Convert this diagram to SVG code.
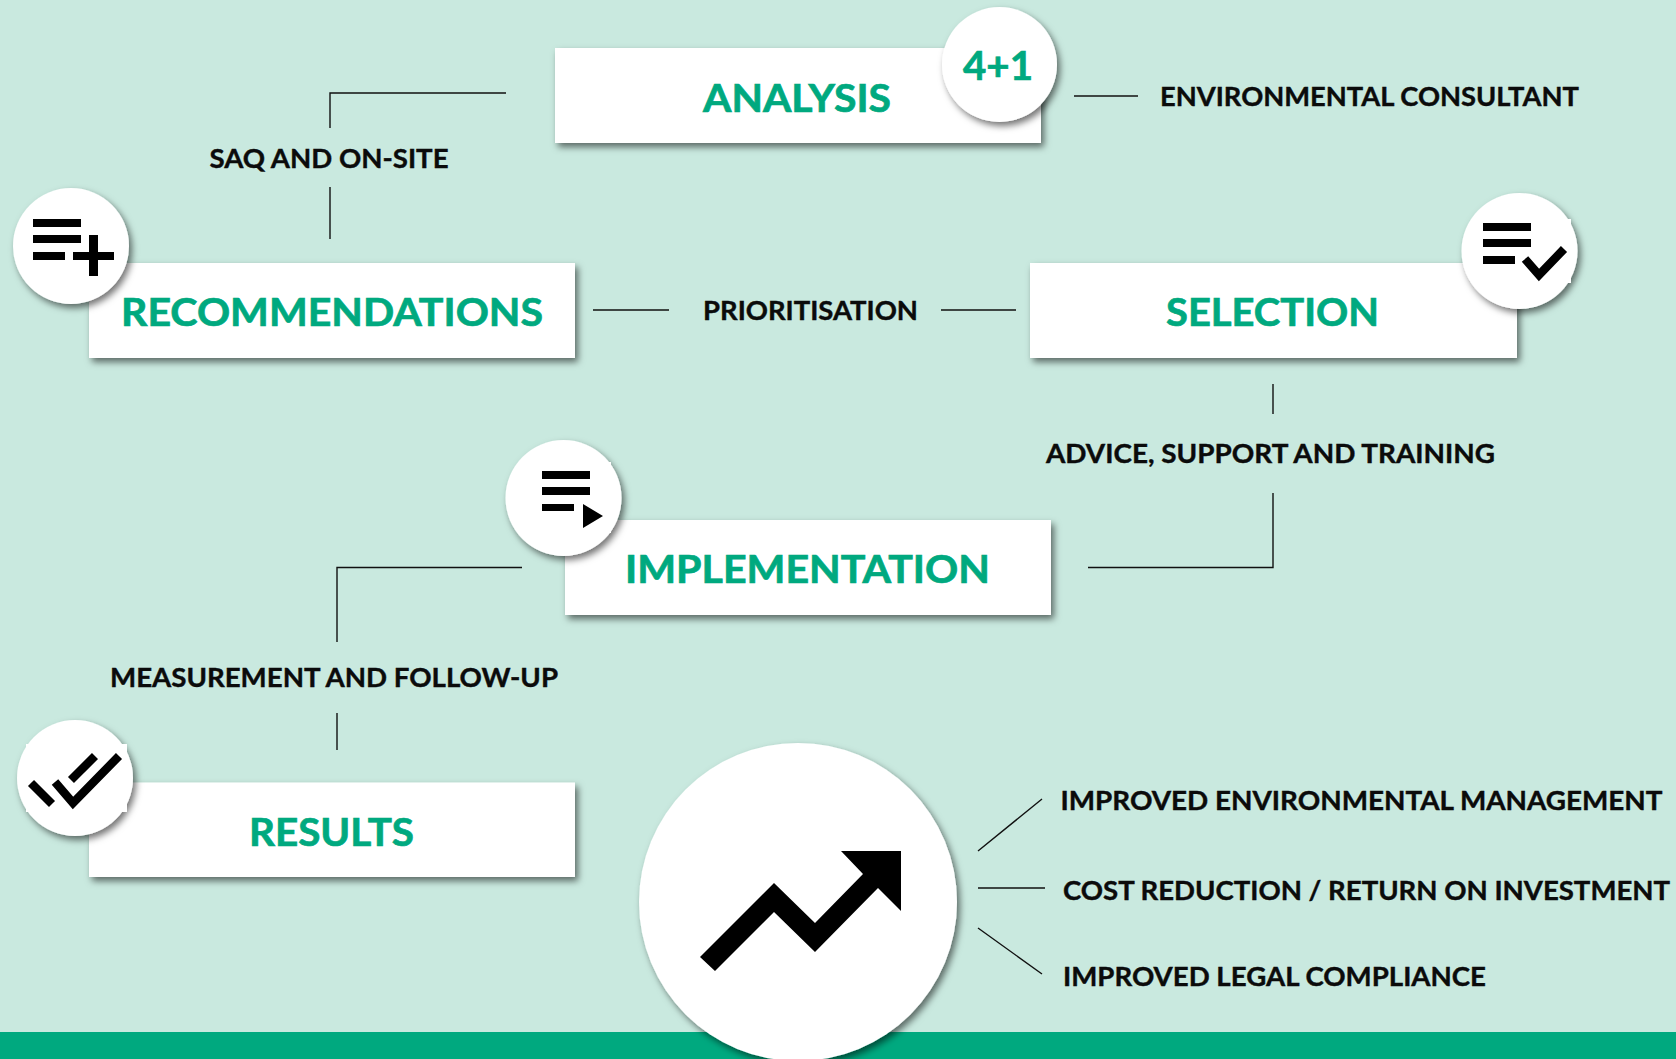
<svg xmlns="http://www.w3.org/2000/svg" width="1676" height="1059" viewBox="0 0 1676 1059">
<style>
.box{fill:#fff;filter:url(#sh)}
.circ{fill:#fff;filter:url(#sh)}
.h{font-family:"Lato","Liberation Sans",sans-serif;font-weight:700;font-size:39px;fill:#00A97F;stroke:#00A97F;stroke-width:.7}
.l{font-family:"Lato","Liberation Sans",sans-serif;font-weight:700;font-size:27px;fill:#0b0b0b;stroke:#0b0b0b;stroke-width:.4}
.c{fill:none;stroke:#111;stroke-width:1.4}
.i{fill:#000}
.s{fill:none;stroke:#000;stroke-width:8.500}
</style>
<defs>
<filter id="sh" x="-20%" y="-20%" width="140%" height="140%"><feDropShadow dx="3" dy="4" stdDeviation="3.500" flood-color="#000" flood-opacity=".55"/></filter>
</defs>
<rect id="background" width="1676" height="1059" fill="#C9E9DF"/>
<rect id="bar" y="1032" width="1676" height="27" fill="#00A97F"/>
<g id="connectors">
<path class="c" d="M506 93H330V128M330 187V239"/>
<path class="c" d="M1074 96H1138"/>
<path class="c" d="M593 310H669M941 310H1016"/>
<path class="c" d="M1273 384V414M1273 493V567.500H1088"/>
<path class="c" d="M522 567.500H337V642M337 713V750"/>
<path class="c" d="M978 851L1042 799M978 888H1045M978 928L1042 974"/>
</g>
<g id="analysis">
<rect class="box" x="555" y="48" width="486" height="95"/>
<text class="h" x="703" y="112" textLength="188" lengthAdjust="spacingAndGlyphs">ANALYSIS</text>
<circle class="circ" cx="999.500" cy="64.500" r="57.500"/>
<text class="h" x="963" y="80" style="font-size:41px" textLength="70" lengthAdjust="spacingAndGlyphs">4+1</text>
</g>
<g id="recommendations">
<rect class="box" x="89" y="263" width="486" height="95"/>
<text class="h" x="121" y="326" textLength="422" lengthAdjust="spacingAndGlyphs">RECOMMENDATIONS</text>
<circle class="circ" cx="71" cy="246" r="58"/>
<path class="i" d="M33 219h48v8h-48zM33 235h48v8h-48zM33 252h32v8h-32zM73 252h41v8h-41zM89 235h9v41h-9z"/>
</g>
<g id="selection">
<rect class="box" x="1030" y="263" width="487" height="95"/>
<text class="h" x="1166" y="326" textLength="213" lengthAdjust="spacingAndGlyphs">SELECTION</text>
<circle class="circ" cx="1519.500" cy="251" r="58"/>
<rect x="1560" y="219" width="11" height="64" fill="#fff"/>
<path class="i" d="M1483 223h48v8h-48zM1483 239h48v8h-48zM1483 256h32v8h-32z"/>
<path class="s" d="M1525 259L1539 275L1564 249"/>
</g>
<g id="implementation">
<rect class="box" x="565" y="520" width="486" height="95"/>
<text class="h" x="625" y="583" textLength="365" lengthAdjust="spacingAndGlyphs">IMPLEMENTATION</text>
<circle class="circ" cx="563.500" cy="498" r="58"/>
<rect x="600" y="462" width="11" height="71" fill="#fff"/>
<path class="i" d="M542 471h48v8h-48zM542 487h48v8h-48zM542 504h32v7h-32zM583 504L603 516L583 528z"/>
</g>
<g id="results">
<rect class="box" x="89" y="782.500" width="486" height="94.500"/>
<text class="h" x="249" y="845.500" textLength="165" lengthAdjust="spacingAndGlyphs">RESULTS</text>
<circle class="circ" cx="75" cy="778" r="58"/>
<rect x="26" y="744" width="101" height="68" fill="#fff"/>
<path class="s" d="M31 783L52 804M55 782L73 803L119 756M71 780L95 756"/>
</g>
<g id="outcome">
<circle class="circ" cx="798" cy="902" r="159"/>
<path class="i" d="M700 957L774 883L815 923L863 874L841 851H901V911L878 888L815 952L774 912L715 971z"/>
</g>
<g id="labels">
<text class="l" x="209.500" y="168" textLength="239" lengthAdjust="spacingAndGlyphs">SAQ AND ON-SITE</text>
<text class="l" x="1160" y="106" textLength="419" lengthAdjust="spacingAndGlyphs">ENVIRONMENTAL CONSULTANT</text>
<text class="l" x="703" y="320" textLength="215" lengthAdjust="spacingAndGlyphs">PRIORITISATION</text>
<text class="l" x="1046" y="463" textLength="449" lengthAdjust="spacingAndGlyphs">ADVICE, SUPPORT AND TRAINING</text>
<text class="l" x="110" y="687" textLength="448" lengthAdjust="spacingAndGlyphs">MEASUREMENT AND FOLLOW-UP</text>
<text class="l" x="1060.500" y="810" textLength="602" lengthAdjust="spacingAndGlyphs">IMPROVED ENVIRONMENTAL MANAGEMENT</text>
<text class="l" x="1063" y="900" textLength="607" lengthAdjust="spacingAndGlyphs">COST REDUCTION / RETURN ON INVESTMENT</text>
<text class="l" x="1063" y="986" textLength="423" lengthAdjust="spacingAndGlyphs">IMPROVED LEGAL COMPLIANCE</text>
</g>
</svg>
